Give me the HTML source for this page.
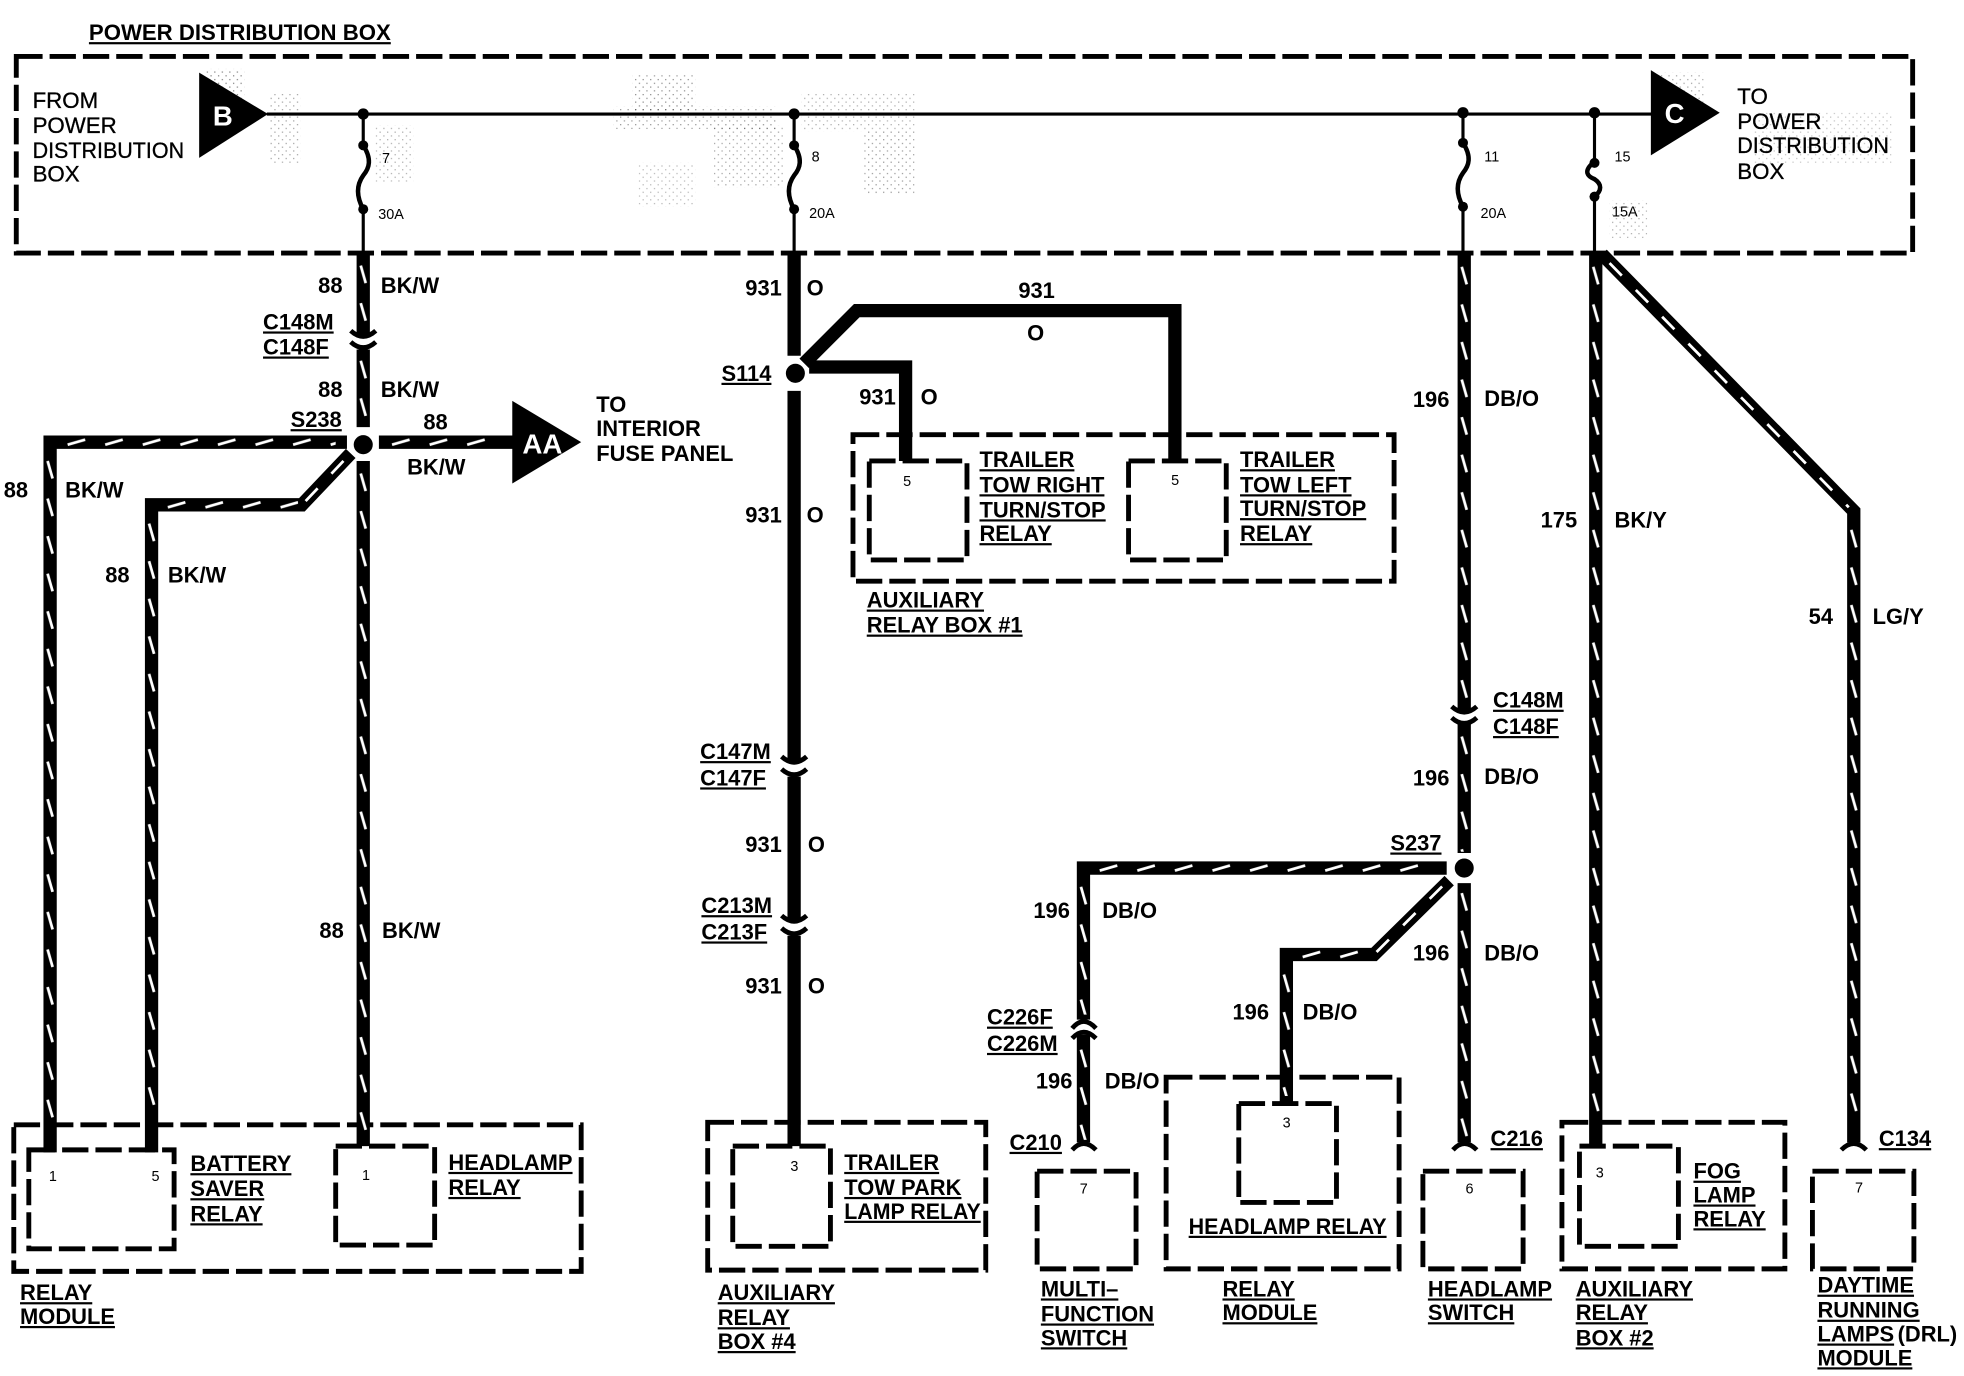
<!DOCTYPE html>
<html><head><meta charset="utf-8">
<style>
html,body{margin:0;padding:0;background:#fff;width:1964px;height:1376px;overflow:hidden}
svg{display:block}
text{font-family:"Liberation Sans",sans-serif;fill:#000}
.r{font-size:17.8px;stroke:#000;stroke-width:.25px}
.b{font-size:17.5px;font-weight:bold}
.u{font-size:17.5px;font-weight:bold;text-decoration:underline}
.s{font-size:11.5px}
.w{fill:#fff;font-weight:bold;font-size:22px}
.box{fill:none;stroke:#000;stroke-width:3.9;stroke-dasharray:21 5.6;stroke-linejoin:miter}
.wire{fill:none;stroke:#000;stroke-width:10.6;stroke-linejoin:miter}
.dd{fill:none;stroke:#fff;stroke-width:2.2;stroke-dasharray:14 16}
.th{fill:none;stroke:#000;stroke-width:2.5}
</style></head><body>
<svg width="1964" height="1376" viewBox="0 0 1568 1098.5" xmlns="http://www.w3.org/2000/svg">
<defs>
<pattern id="vd" width="10" height="30" patternUnits="userSpaceOnUse"><path d="M3 8L7 22" stroke="#fff" stroke-width="2.2"/></pattern>
<pattern id="hd" width="30" height="10" patternUnits="userSpaceOnUse"><path d="M8 7L22 3" stroke="#fff" stroke-width="2.2"/></pattern>
<pattern id="sp" width="6" height="6" patternUnits="userSpaceOnUse"><rect width="1" height="1" fill="#333"/><rect x="3" y="3" width="1" height="1" fill="#333"/></pattern>
</defs>

<!-- speckle in power distribution box -->
<g fill="url(#sp)">
<rect x="165" y="55" width="30" height="30" opacity=".6"/>
<rect x="215" y="75" width="25" height="55" opacity=".45"/>
<rect x="300" y="100" width="30" height="45" opacity=".4"/>
<rect x="505" y="60" width="50" height="30" opacity=".55"/>
<rect x="490" y="85" width="130" height="18" opacity=".5"/>
<rect x="570" y="100" width="55" height="50" opacity=".45"/>
<rect x="510" y="130" width="45" height="35" opacity=".35"/>
<rect x="640" y="75" width="90" height="30" opacity=".4"/>
<rect x="690" y="105" width="40" height="50" opacity=".5"/>
<rect x="1320" y="58" width="40" height="30" opacity=".45"/>
<rect x="1400" y="90" width="110" height="40" opacity=".3"/>
<rect x="1285" y="160" width="30" height="30" opacity=".4"/>
</g>

<!-- dashed boxes -->
<rect class="box" x="13" y="45" width="1514" height="157"/>
<rect class="box" x="11" y="898" width="453" height="117"/>
<rect class="box" x="23" y="918" width="116" height="79"/>
<rect class="box" x="268" y="915" width="79" height="79"/>
<rect class="box" x="681" y="347" width="432" height="117"/>
<rect class="box" x="694" y="368" width="78" height="79"/>
<rect class="box" x="901" y="368" width="78" height="79"/>
<rect class="box" x="565" y="896" width="222" height="118"/>
<rect class="box" x="585" y="915" width="78" height="80"/>
<rect class="box" x="828" y="935" width="79" height="78"/>
<rect class="box" x="931" y="860" width="186" height="153"/>
<rect class="box" x="989" y="881" width="78" height="79"/>
<rect class="box" x="1136" y="935" width="80" height="78"/>
<rect class="box" x="1247" y="896" width="178" height="117"/>
<rect class="box" x="1261" y="915" width="79" height="80"/>
<rect class="box" x="1447" y="935" width="81" height="78"/>

<!-- bus -->
<path class="th" d="M213 91H1320"/>
<path class="th" d="M290 91V116M290 167V204M634 91V116M634 167V204M1168 91V116M1168 165V204M1273 91V129M1273 157V204"/>
<g fill="none" stroke="#000" stroke-width="3.6">
<path d="M290 116C297 127 295 134 290 140C285 147 284 156 290 167"/>
<path d="M634 116C641 127 639 134 634 140C629 147 628 156 634 167"/>
<path d="M1168 114C1175 125 1173 132 1168 138C1163 145 1162 154 1168 165"/>
<path d="M1273 129C1263 137 1268 141 1273 143C1279 147 1279 152 1273 157"/>
</g>
<g fill="#000">
<circle cx="290" cy="91" r="4.5"/><circle cx="634" cy="91" r="4.5"/><circle cx="1168" cy="90" r="4.5"/><circle cx="1273" cy="90" r="4.5"/>
<circle cx="290" cy="116" r="4"/><circle cx="290" cy="167" r="4"/>
<circle cx="634" cy="116" r="4"/><circle cx="634" cy="167" r="4"/>
<circle cx="1168" cy="114" r="4"/><circle cx="1168" cy="165" r="4"/>
<circle cx="1273" cy="130" r="4"/><circle cx="1273" cy="157" r="4"/>
</g>

<!-- triangles -->
<path d="M159 58L214 91L159 126Z"/>
<path d="M1318 56L1373 90L1318 124Z"/>
<path d="M409 320L464 353L409 386Z"/>

<!-- 88 wires -->
<path class="wire" d="M290 202V268M290 279V341M290 368V915"/>
<path class="wire" d="M277 353H40V920"/>
<path class="wire" d="M302.5 353H412"/>
<path class="wire" d="M121 920V403H241L280 362"/>
<rect transform="translate(285,204)" width="10" height="60" fill="url(#vd)"/>
<rect transform="translate(285,280)" width="10" height="60" fill="url(#vd)"/>
<rect transform="translate(285,370)" width="10" height="540" fill="url(#vd)"/>
<rect transform="translate(35,360)" width="10" height="540" fill="url(#vd)"/>
<rect transform="translate(116,410)" width="10" height="480" fill="url(#vd)"/>
<rect transform="translate(46,348)" width="222" height="10" fill="url(#hd)"/>
<rect transform="translate(305,348)" width="90" height="10" fill="url(#hd)"/>
<rect transform="translate(126,398)" width="112" height="10" fill="url(#hd)"/>
<path class="dd" d="M244 400L278 364" stroke-dasharray="14 10"/>

<!-- 931 wires -->
<path class="wire" d="M634 202V284M634 312V609M634 620V736M634 747V915"/>
<path class="wire" d="M646 293H723V368"/>
<path class="wire" d="M642 290L684 248H938V368"/>

<!-- 196 wires -->
<path class="wire" d="M1169 202V568M1169 578V681M1169 705V912"/>
<path class="wire" d="M1155 693H865V814M865 826V912"/>
<path class="wire" d="M1157 703L1097 762H1027V880"/>
<rect transform="translate(1164,205)" width="10" height="355" fill="url(#vd)"/>
<rect transform="translate(1164,580)" width="10" height="100" fill="url(#vd)"/>
<rect transform="translate(1164,705)" width="10" height="205" fill="url(#vd)"/>
<rect transform="translate(870,688)" width="270" height="10" fill="url(#hd)"/>
<rect transform="translate(860,700)" width="10" height="110" fill="url(#vd)"/>
<rect transform="translate(860,830)" width="10" height="80" fill="url(#vd)"/>
<rect transform="translate(1032,757)" width="62" height="10" fill="url(#hd)"/>
<rect transform="translate(1022,770)" width="10" height="105" fill="url(#vd)"/>
<path class="dd" d="M1099 760L1154 705"/>

<!-- 175 / 54 wires -->
<path class="wire" d="M1274 202V915"/>
<path class="wire" d="M1279 203L1480 408V912"/>
<rect transform="translate(1269,205)" width="10" height="690" fill="url(#vd)"/>
<rect transform="translate(1475,415)" width="10" height="480" fill="url(#vd)"/>
<path class="dd" d="M1285 210L1476 405"/>

<!-- junction dots -->
<circle cx="290" cy="355" r="7.6"/>
<circle cx="635" cy="298" r="7.6"/>
<circle cx="1169" cy="693" r="7.6"/>

<!-- connector chevrons -->
<g fill="none" stroke="#000" stroke-width="3.8">
<path d="M280 264Q290 273 300 264M280 273Q290 282 300 273"/>
<path d="M624 604Q634 613 644 604M624 614Q634 623 644 614"/>
<path d="M624 731Q634 740 644 731M624 741Q634 750 644 741"/>
<path d="M1159 564Q1169 573 1179 564M1159 573Q1169 582 1179 573"/>
<path d="M856 821Q865 810 875 821M856 829Q865 819 875 829"/>
<path d="M856 918Q865 908 875 918"/>
<path d="M1160 918Q1169 908 1179 918"/>
<path d="M1470 918Q1480 908 1490 918"/>
</g>

<!-- triangle labels -->
<text class="w" x="170" y="100">B</text>
<text class="w" x="1329" y="98">C</text>
<text class="w" x="417" y="362" textLength="32" lengthAdjust="spacingAndGlyphs">AA</text>

<!-- top labels -->
<text class="u" x="71" y="32" textLength="241" lengthAdjust="spacingAndGlyphs">POWER DISTRIBUTION BOX</text>
<text class="r" x="26" y="86">FROM</text><text class="r" x="26" y="106">POWER</text><text class="r" x="26" y="126" textLength="121" lengthAdjust="spacingAndGlyphs">DISTRIBUTION</text><text class="r" x="26" y="145">BOX</text>
<text class="r" x="1387" y="83">TO</text><text class="r" x="1387" y="103">POWER</text><text class="r" x="1387" y="122" textLength="121" lengthAdjust="spacingAndGlyphs">DISTRIBUTION</text><text class="r" x="1387" y="143">BOX</text>
<text class="s" x="305" y="130">7</text><text class="s" x="302" y="175">30A</text>
<text class="s" x="648" y="129">8</text><text class="s" x="646" y="174">20A</text>
<text class="s" x="1185" y="129">11</text><text class="s" x="1182" y="174">20A</text>
<text class="s" x="1289" y="129">15</text><text class="s" x="1287" y="173">15A</text>

<!-- 88 group -->
<text class="b" x="254" y="234">88</text><text class="b" x="304" y="234">BK/W</text>
<text class="u" x="210" y="263">C148M</text><text class="u" x="210" y="283">C148F</text>
<text class="b" x="254" y="317">88</text><text class="b" x="304" y="317">BK/W</text>
<text class="u" x="232" y="341">S238</text>
<text class="b" x="338" y="343">88</text><text class="b" x="325" y="379">BK/W</text>
<text class="b" x="476" y="329">TO</text><text class="b" x="476" y="348">INTERIOR</text><text class="b" x="476" y="368">FUSE PANEL</text>
<text class="b" x="3" y="397">88</text><text class="b" x="52" y="397">BK/W</text>
<text class="b" x="84" y="465">88</text><text class="b" x="134" y="465">BK/W</text>
<text class="b" x="255" y="749">88</text><text class="b" x="305" y="749">BK/W</text>

<!-- 931 group -->
<text class="b" x="595" y="236">931</text><text class="b" x="644" y="236">O</text>
<text class="b" x="813" y="238">931</text><text class="b" x="820" y="272">O</text>
<text class="u" x="576" y="304">S114</text>
<text class="b" x="686" y="323">931</text><text class="b" x="735" y="323">O</text>
<text class="b" x="595" y="417">931</text><text class="b" x="644" y="417">O</text>
<text class="u" x="559" y="606">C147M</text><text class="u" x="559" y="627">C147F</text>
<text class="b" x="595" y="680">931</text><text class="b" x="645" y="680">O</text>
<text class="u" x="560" y="729">C213M</text><text class="u" x="560" y="750">C213F</text>
<text class="b" x="595" y="793">931</text><text class="b" x="645" y="793">O</text>

<!-- 196 group -->
<text class="b" x="1128" y="325">196</text><text class="b" x="1185" y="324">DB/O</text>
<text class="u" x="1192" y="565">C148M</text><text class="u" x="1192" y="586">C148F</text>
<text class="b" x="1128" y="627">196</text><text class="b" x="1185" y="626">DB/O</text>
<text class="u" x="1110" y="679">S237</text>
<text class="b" x="1128" y="767">196</text><text class="b" x="1185" y="767">DB/O</text>
<text class="b" x="825" y="733">196</text><text class="b" x="880" y="733">DB/O</text>
<text class="b" x="984" y="814">196</text><text class="b" x="1040" y="814">DB/O</text>
<text class="u" x="788" y="818">C226F</text><text class="u" x="788" y="839">C226M</text>
<text class="b" x="827" y="869">196</text><text class="b" x="882" y="869">DB/O</text>
<text class="u" x="806" y="918">C210</text>
<text class="u" x="1190" y="915">C216</text>
<text class="u" x="1500" y="915">C134</text>

<!-- 175 / 54 -->
<text class="b" x="1230" y="421">175</text><text class="b" x="1289" y="421">BK/Y</text>
<text class="b" x="1444" y="498">54</text><text class="b" x="1495" y="498">LG/Y</text>

<!-- module labels -->
<text class="u" x="152" y="935">BATTERY</text><text class="u" x="152" y="955">SAVER</text><text class="u" x="152" y="975">RELAY</text>
<text class="u" x="358" y="934">HEADLAMP</text><text class="u" x="358" y="954">RELAY</text>
<text class="u" x="16" y="1038">RELAY</text><text class="u" x="16" y="1057">MODULE</text>
<text class="s" x="39" y="943">1</text><text class="s" x="121" y="943">5</text><text class="s" x="289" y="942">1</text>

<text class="u" x="782" y="373">TRAILER</text><text class="u" x="782" y="393">TOW RIGHT</text><text class="u" x="782" y="413">TURN/STOP</text><text class="u" x="782" y="432">RELAY</text>
<text class="u" x="990" y="373">TRAILER</text><text class="u" x="990" y="393">TOW LEFT</text><text class="u" x="990" y="412">TURN/STOP</text><text class="u" x="990" y="432">RELAY</text>
<text class="s" x="721" y="388">5</text><text class="s" x="935" y="387">5</text>
<text class="u" x="692" y="485">AUXILIARY</text><text class="u" x="692" y="505">RELAY BOX #1</text>

<text class="u" x="674" y="934">TRAILER</text><text class="u" x="674" y="954">TOW PARK</text><text class="u" x="674" y="973" textLength="109" lengthAdjust="spacingAndGlyphs">LAMP RELAY</text>
<text class="s" x="631" y="935">3</text>
<text class="u" x="573" y="1038">AUXILIARY</text><text class="u" x="573" y="1058">RELAY</text><text class="u" x="573" y="1077">BOX #4</text>

<text class="s" x="862" y="953">7</text>
<text class="u" x="831" y="1035">MULTI–</text><text class="u" x="831" y="1055">FUNCTION</text><text class="u" x="831" y="1074">SWITCH</text>

<text class="s" x="1024" y="900">3</text>
<text class="u" x="949" y="985" textLength="158" lengthAdjust="spacingAndGlyphs">HEADLAMP RELAY</text>
<text class="u" x="976" y="1035">RELAY</text><text class="u" x="976" y="1054">MODULE</text>

<text class="s" x="1170" y="953">6</text>
<text class="u" x="1140" y="1035">HEADLAMP</text><text class="u" x="1140" y="1054">SWITCH</text>

<text class="s" x="1274" y="940">3</text>
<text class="u" x="1352" y="941">FOG</text><text class="u" x="1352" y="960">LAMP</text><text class="u" x="1352" y="979">RELAY</text>
<text class="u" x="1258" y="1035">AUXILIARY</text><text class="u" x="1258" y="1054">RELAY</text><text class="u" x="1258" y="1074">BOX #2</text>

<text class="s" x="1481" y="952">7</text>
<text class="u" x="1451" y="1032">DAYTIME</text><text class="u" x="1451" y="1052">RUNNING</text><text class="u" x="1451" y="1071">LAMPS</text><text class="b" x="1515" y="1071">(DRL)</text><text class="u" x="1451" y="1090">MODULE</text>
</svg>
</body></html>
